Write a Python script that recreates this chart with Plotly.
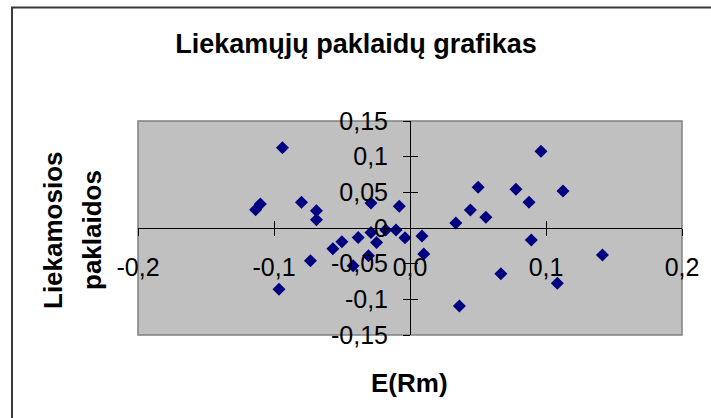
import plotly.graph_objects as go

# Residuals vs. expected market return
x_vals = [-0.0938, -0.1100, -0.1135, -0.0798, -0.0688, -0.0688, -0.0732, -0.0963,
          -0.0287, -0.0079, -0.0567, -0.0501, -0.0381, -0.0287, -0.0246, -0.0179,
          -0.0103, -0.0037, -0.0305, -0.0418, 0.0088, 0.0101,
          0.0963, 0.0501, 0.0779, 0.1125, 0.0875, 0.0444, 0.0558, 0.0337,
          0.0892, 0.1415, 0.0668, 0.1083, 0.0363]
y_vals = [0.1125, 0.0337, 0.0257, 0.0360, 0.0243, 0.0117, -0.0460, -0.0858,
          0.0350, 0.0304, -0.0292, -0.0194, -0.0132, -0.0062, -0.0202, -0.0028,
          -0.0028, -0.0136, -0.0390, -0.0530, -0.0113, -0.0366,
          0.1077, 0.0571, 0.0543, 0.0520, 0.0360, 0.0253, 0.0149, 0.0070,
          -0.0169, -0.0380, -0.0643, -0.0773, -0.1093]

x_ticks = [-0.2, -0.1, 0.0, 0.1, 0.2]
x_tick_text = ["-0,2", "-0,1", "0,0", "0,1", "0,2"]
y_ticks = [-0.15, -0.1, -0.05, 0.0, 0.05, 0.1, 0.15]
y_tick_text = ["-0,15", "-0,1", "-0,05", "0", "0,05", "0,1", "0,15"]

title_text = "Liekamųjų paklaidų grafikas"
y_title_lines = ["Liekamosios", "paklaidos"]
x_title_text = "E(Rm)"

FONT = "Liberation Sans, Arial, sans-serif"
W, H = 711, 418
ML, MR, MT, MB = 138, 29, 121, 83
PW, PH = W - ML - MR, H - MT - MB


def px_to_paper_x(px):
    return (px - ML) / PW


def px_to_paper_y(py):
    return (H - MB - py) / PH


fig = go.Figure()
fig.add_trace(go.Scatter(
    x=x_vals, y=y_vals, mode="markers",
    marker=dict(symbol="diamond", size=10, color="#000080",
                line=dict(width=0)),
    hoverinfo="x+y", showlegend=False,
))
# empty trace so the overlaid tick axes are rendered
fig.add_trace(go.Scatter(x=[], y=[], xaxis="x2", yaxis="y2",
                         hoverinfo="skip", showlegend=False))

tick_font = dict(family=FONT, size=25, color="black")
common_x = dict(range=[-0.2, 0.2], tickvals=x_ticks, anchor="free", position=0.5,
                showgrid=False, zeroline=False, showline=True, linecolor="black",
                linewidth=1, ticklen=7, tickcolor="black", tickwidth=1,
                fixedrange=True)
common_y = dict(range=[-0.15, 0.15], tickvals=y_ticks, anchor="free", position=0.5,
                showgrid=False, zeroline=False, showline=True, linecolor="black",
                linewidth=1, ticklen=7, tickcolor="black", tickwidth=1,
                fixedrange=True)

fig.update_layout(
    width=W, height=H,
    margin=dict(l=ML, r=MR, t=MT, b=MB, autoexpand=False),
    paper_bgcolor="white",
    plot_bgcolor="#C0C0C0",
    xaxis=dict(**common_x, ticks="outside", ticktext=x_tick_text,
               tickfont=tick_font, ticklabelstandoff=10),
    yaxis=dict(**common_y, ticks="outside", ticktext=y_tick_text,
               tickfont=tick_font, ticklabelstandoff=10),
    xaxis2=dict(**common_x, overlaying="x", ticks="inside", showticklabels=False),
    yaxis2=dict(**common_y, overlaying="y", ticks="inside", showticklabels=False),
    title=dict(text=title_text, x=356 / W, xref="container", xanchor="center",
               y=1 - 44 / H, yref="container", yanchor="middle",
               font=dict(family=FONT, size=27, color="black", weight="bold")),
    shapes=[
        # plot area frame
        dict(type="rect", xref="paper", yref="paper", x0=0, x1=1, y0=0, y1=1,
             line=dict(color="#808080", width=1.5), layer="below"),
        # chart frame
        dict(type="rect", xref="paper", yref="paper",
             x0=px_to_paper_x(12), x1=px_to_paper_x(730),
             y0=px_to_paper_y(440), y1=px_to_paper_y(7.5),
             line=dict(color="#3a3a3a", width=2)),
    ],
    annotations=[
        dict(text=y_title_lines[0], xref="paper", yref="paper",
             x=px_to_paper_x(53), y=px_to_paper_y(230), textangle=-90,
             showarrow=False, xanchor="center", yanchor="middle",
             font=dict(family=FONT, size=26, color="black", weight="bold")),
        dict(text=y_title_lines[1], xref="paper", yref="paper",
             x=px_to_paper_x(92), y=px_to_paper_y(230), textangle=-90,
             showarrow=False, xanchor="center", yanchor="middle",
             font=dict(family=FONT, size=26, color="black", weight="bold")),
        dict(text=x_title_text, xref="paper", yref="paper",
             x=px_to_paper_x(409), y=px_to_paper_y(383),
             showarrow=False, xanchor="center", yanchor="middle",
             font=dict(family=FONT, size=26, color="black", weight="bold")),
    ],
)

fig.write_html("out.html")
